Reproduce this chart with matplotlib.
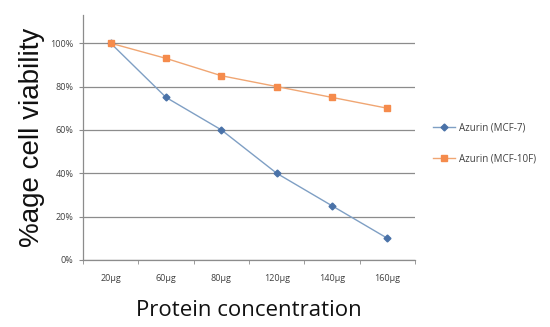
import matplotlib.pyplot as plt
from matplotlib.lines import Line2D
import numpy as np

doses = ["20µg", "60µg", "80µg", "120µg", "140µg", "160µg"]
mcf7 = [100, 75, 60, 40, 25, 10]
mcf10f = [100, 93, 85, 80, 75, 70]
yticks = [0, 20, 40, 60, 80, 100]
labels = ["Azurin (MCF-7)", "Azurin (MCF-10F)"]

plt.rcParams['font.family'] = ['Open Sans', 'DejaVu Sans']

fig = plt.figure(figsize=(5.5, 3.27), dpi=100)
ax = fig.add_axes([0.151, 0.205, 0.6036, 0.749])

x = np.arange(len(doses))
ax.plot(x, mcf7, '-', color='#7f9fc4', lw=1.0, zorder=3)
ax.plot(x, mcf7, 'D', color='#4a72a8', ms=3.5, zorder=4)
ax.plot(x, mcf10f, '-', color='#f0a673', lw=1.0, zorder=3)
ax.plot(x, mcf10f, 's', color='#f58b4c', ms=5, zorder=4)

ax.set_xlim(-0.5, len(doses) - 0.5)
ax.set_ylim(0, 113)
for v in yticks:
    ax.axhline(v, color='#8c8c8c', lw=0.9, zorder=1)

ax.set_yticks(yticks)
ax.set_yticklabels(["{}%".format(v) for v in yticks], fontsize=6.5, color='#404040')
ax.set_xticks(x)
ax.set_xticklabels(doses, fontsize=6.5, color='#404040')
ax.set_xticks(np.arange(-0.5, len(doses)), minor=True)
ax.tick_params(axis='x', which='major', length=0, pad=10)
ax.tick_params(axis='x', which='minor', length=3, color='#8c8c8c')
ax.tick_params(axis='y', length=3, color='#8c8c8c', pad=4)

for side in ['top', 'right']:
    ax.spines[side].set_visible(False)
for side in ['left', 'bottom']:
    ax.spines[side].set_color('#8c8c8c')
    ax.spines[side].set_linewidth(0.9)

ax.set_xlabel("Protein concentration", fontsize=16, labelpad=12, color='#111111')
ax.set_ylabel("%age cell viability", fontsize=20, labelpad=4,
              family=['Liberation Sans', 'DejaVu Sans'], color='#111111')

h1 = Line2D([], [], color='#7f9fc4', lw=1.0, marker='D', markerfacecolor='#4a72a8',
            markeredgecolor='#4a72a8', ms=3.5)
h2 = Line2D([], [], color='#f0a673', lw=1.0, marker='s', markerfacecolor='#f58b4c',
            markeredgecolor='#f58b4c', ms=5)
fig.legend([h1, h2], labels, loc='center left', bbox_to_anchor=(0.787, 0.561),
           frameon=False, fontsize=7, handlelength=2.3, handletextpad=0.4,
           labelspacing=2.0, borderpad=0, borderaxespad=0, labelcolor='#404040')

fig.savefig("out.png", dpi=100)
